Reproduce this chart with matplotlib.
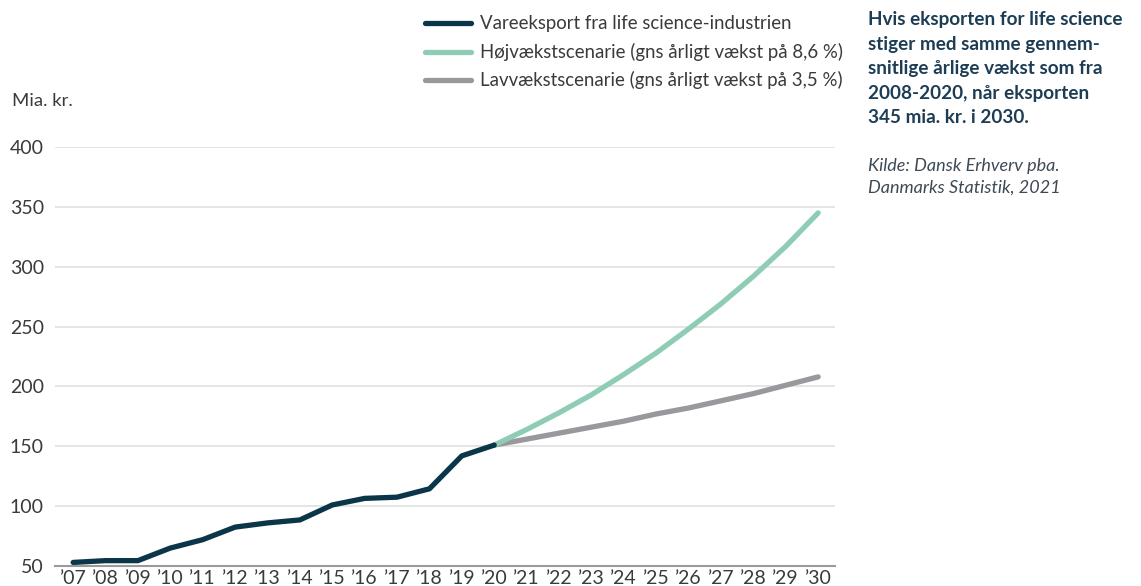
import numpy as np
import matplotlib.pyplot as plt

plt.rcParams['font.family'] = ['Lato', 'DejaVu Sans']

# data
years_actual = [2007, 2008, 2009, 2010, 2011, 2012, 2013, 2014, 2015, 2016, 2017, 2018, 2019, 2020]
export_actual = [53, 54.5, 54.5, 65, 72, 82.5, 86, 88.5, 101, 106.5, 107.5, 114.5, 142, 151]

years_proj = [2020, 2021, 2022, 2023, 2024, 2025, 2026, 2027, 2028, 2029, 2030]
high_scen = [151, 164, 178, 193, 210, 228, 248, 269, 292, 317, 345]
low_scen = [151, 156, 161, 166, 171, 177, 182, 188, 194, 201, 208]

tick_years = list(range(2007, 2031))
tick_labels = ['\u2019{:02d}'.format(y % 100) for y in tick_years]

c_dark = '#0b3549'
c_green = '#8ecdb4'
c_grey = '#98989d'
c_text = '#3a3a3a'

fig = plt.figure(figsize=(11.41, 5.86), dpi=100)
ax = fig.add_axes([0.0482, 0.0341, 0.6836, 0.715])

ax.plot(years_proj, low_scen, color=c_grey, lw=3.8, solid_capstyle='round', zorder=3)
ax.plot(years_proj, high_scen, color=c_green, lw=3.8, solid_capstyle='round', zorder=4)
ax.plot(years_actual, export_actual, color=c_dark, lw=3.8, solid_capstyle='round', zorder=5)

ax.set_xlim(2006.44, 2030.52)
ax.set_ylim(50, 400)
ax.set_yticks([50, 100, 150, 200, 250, 300, 350, 400])
ax.set_xticks(tick_years)
ax.set_xticklabels(tick_labels)
ax.tick_params(axis='both', length=0, labelsize=14, colors=c_text)
ax.tick_params(axis='y', pad=8)
ax.tick_params(axis='x', pad=3)
ax.grid(axis='y', color='#e3e3e3', lw=1.3)
ax.set_axisbelow(True)
for s in ['top', 'right', 'left']:
    ax.spines[s].set_visible(False)
ax.spines['bottom'].set_color('#9a9a9a')
ax.spines['bottom'].set_linewidth(1.5)

fig.text(12/1141, 1 - 101/586, 'Mia. kr.', fontsize=13.3, color=c_text, va='center')

# legend drawn by hand
leg = [('Vareeksport fra life science-industrien', c_dark),
       ('H\u00f8jv\u00e6kstscenarie (gns \u00e5rligt v\u00e6kst p\u00e5 8,6 %)', c_green),
       ('Lavv\u00e6kstscenarie (gns \u00e5rligt v\u00e6kst p\u00e5 3,5 %)', c_grey)]
for i, (lab, col) in enumerate(leg):
    yy = 1 - (23 + i * 28.5) / 586
    fig.add_artist(plt.Line2D([425/1141, 471/1141], [yy, yy], color=col, lw=3.8,
                              solid_capstyle='round', transform=fig.transFigure))
    fig.text(480/1141, yy, lab, fontsize=13.4, color=c_text, va='center')

fig.text(868/1141, 1 - 11/586,
         'Hvis eksporten for life science\nstiger med samme gennem-\nsnitlige \u00e5rlige v\u00e6kst som fra\n2008-2020, n\u00e5r eksporten\n345 mia. kr. i 2030.',
         fontsize=13.6, fontweight='bold', color='#1d3d55', va='top', linespacing=1.54)
fig.text(868/1141, 1 - 158/586, 'Kilde: Dansk Erhverv pba.\nDanmarks Statistik, 2021',
         fontsize=13, style='italic', color='#3d4a55', va='top', linespacing=1.45)

fig.savefig('out.png', dpi=100)
